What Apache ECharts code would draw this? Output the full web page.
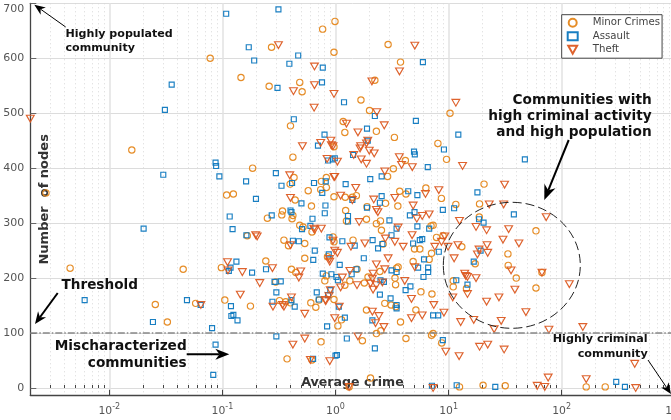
<!DOCTYPE html>
<html><head><meta charset="utf-8">
<style>html,body{margin:0;padding:0;width:671px;height:420px;overflow:hidden;background:#fff}#c{width:705px;height:420px}</style>
<script src="https://cdn.jsdelivr.net/npm/echarts@6/dist/echarts.min.js"></script>
</head><body><div id="c"></div>
<script>
const minorCrimes=[[0.00275,355],[0.0045,218],[0.0158,433],[0.0255,152],[0.0326,120],[0.045,216],[0.058,154],[0.078,600],[0.098,219],[0.105,160],[0.109,351],[0.125,353],[0.146,565],[0.166,277],[0.177,149],[0.185,400],[0.242,231],[0.25,309],[0.259,549],[0.272,620],[0.296,193],[0.32,159],[0.335,315],[0.34,322],[0.35,269],[0.363,157],[0.373,53],[0.384,259],[0.40,477],[0.397,371],[0.408,216],[0.413,308],[0.42,314],[0.42,420],[0.40,155],[0.43,383],[0.44,342],[0.446,210],[0.483,556],[0.507,539],[0.483,296],[0.517,293],[0.535,263],[0.535,236],[0.574,359],[0.605,155],[0.613,331],[0.62,284],[0.62,51],[0.67,147],[0.717,160],[0.74,361],[0.75,376],[0.745,84],[0.77,653],[0.805,195],[0.83,204],[0.83,383],[0.83,365],[0.85,239],[0.95,275],[0.97,266],[0.97,439],[0.97,348],[0.97,161],[0.99,667],[0.97,611],[1.05,113],[1.13,124],[1.17,485],[1.21,465],[1.22,347],[1.21,187],[1.23,323],[1.25,304],[1.32,2],[1.34,195],[1.41,347],[1.43,269],[1.53,350],[1.55,216],[1.68,524],[1.73,86],[1.8,191],[1.88,307],[1.9,330],[1.88,142],[1.94,202],[2.0,505],[2.04,18],[2.23,560],[2.3,467],[2.3,299],[2.3,99],[2.47,212],[2.5,304],[2.55,287],[2.52,104],[2.64,262],[2.73,154],[2.77,336],[2.89,385],[2.92,625],[3.1,151],[3.25,399],[3.32,456],[3.36,200],[3.4,188],[3.42,148],[3.47,218],[3.56,331],[3.58,220],[3.7,358],[3.76,593],[3.76,120],[4.15,414],[4.2,353],[4.2,90],[4.86,230],[5.0,253],[5.14,142],[5.57,253],[5.7,175],[6.3,364],[6.74,234],[7.07,245],[7.0,295],[7.3,296],[7.07,96],[7.3,99],[7.13,171],[7.83,274],[8.05,445],[8.65,345],[8.7,82],[8.95,277],[9.6,416],[10.3,500],[11,195],[11,184],[11.6,334],[12.5,2],[13.1,257],[14.4,181],[17.2,226],[18.7,311],[18.8,335],[20.2,5],[20.6,371],[31.7,4],[33.5,244],[33.7,223],[39.7,200],[59.3,286],[59.3,182],[67,210],[165,2],[243,2]];
const assault=[[0.00605,160],[0.0201,290],[0.0243,120],[0.030,388],[0.031,506],[0.0356,552],[0.0486,160],[0.0643,151],[0.081,109],[0.083,24],[0.087,79],[0.087,410],[0.088,404],[0.094,385],[0.108,681],[0.114,213],[0.118,219],[0.116,312],[0.119,149],[0.12,131],[0.123,289],[0.125,133],[0.133,230],[0.136,123],[0.162,376],[0.163,278],[0.171,620],[0.183,210],[0.191,596],[0.198,344],[0.243,216],[0.273,314],[0.277,157],[0.289,193],[0.297,391],[0.30,174],[0.30,94],[0.307,546],[0.313,689],[0.328,194],[0.333,368],[0.391,590],[0.40,323],[0.408,320],[0.408,160],[0.413,373],[0.42,268],[0.428,489],[0.436,148],[0.468,605],[0.474,267],[0.50,336],[0.506,289],[0.60,295],[0.626,308],[0.634,53],[0.636,233],[0.646,373],[0.656,250],[0.683,174],[0.70,441],[0.712,161],[0.764,355],[0.772,208],[0.772,583],[0.76,556],[0.80,461],[0.804,318],[0.815,332],[0.82,376],[0.843,112],[0.86,414],[0.86,169],[0.872,243],[0.885,274],[0.90,178],[0.92,207],[0.946,416],[0.986,418],[1.0,59],[1.02,202],[1.03,60],[1.05,196],[1.07,148],[1.09,224],[1.15,267],[1.19,520],[1.21,128],[1.23,371],[1.26,90],[1.29,313],[1.29,303],[1.39,207],[1.43,424],[1.41,342],[1.48,259],[1.53,216],[1.78,236],[1.9,472],[1.9,328],[1.93,450],[2.03,380],[2.12,123],[2.13,269],[2.23,495],[2.23,72],[2.38,254],[2.47,337],[2.5,196],[2.56,385],[2.56,349],[2.6,262],[2.68,193],[2.47,170],[3.0,305],[3.07,163],[3.13,278],[3.13,214],[3.47,211],[3.47,290],[3.47,151],[3.47,145],[4.17,178],[4.4,358],[4.6,185],[4.55,314],[4.86,263],[5.0,320],[4.95,430],[5.03,425],[5.14,486],[5.3,351],[5.3,294],[5.38,219],[5.57,269],[5.85,271],[5.93,593],[6.0,202],[6.07,234],[6.55,402],[6.6,219],[6.6,211],[6.74,290],[7.13,4],[7.3,132],[8.1,132],[8.2,248],[8.9,324],[8.9,87],[9.1,434],[11.2,327],[11.7,196],[11.8,5],[12.2,461],[14.7,188],[16.7,230],[18,356],[18.6,307],[19.2,250],[20.4,301],[25.9,2],[37.8,316],[47.3,416],[304,11],[363,2]];
const theft=[[0.002,490],[0.0645,151],[0.111,229],[0.112,214],[0.144,170],[0.15,211],[0.197,278],[0.203,276],[0.214,191],[0.277,218],[0.28,148],[0.313,624],[0.34,151],[0.35,148],[0.394,387],[0.40,346],[0.40,260],[0.408,165],[0.425,540],[0.42,79],[0.474,201],[0.493,212],[0.51,440],[0.535,135],[0.535,90],[0.60,51],[0.642,290],[0.652,585],[0.652,551],[0.647,510],[0.656,288],[0.74,446],[0.75,290],[0.815,160],[0.82,158],[0.843,417],[0.885,235],[0.89,230],[0.875,167],[0.89,49],[0.91,450],[0.90,178],[0.92,442],[0.95,440],[0.95,268],[0.97,535],[0.97,384],[0.985,384],[0.985,250],[0.985,127],[1.04,412],[1.04,246],[1.08,148],[1.11,350],[1.11,183],[1.15,201],[1.25,481],[1.32,2],[1.37,257],[1.34,213],[1.41,342],[1.45,424],[1.51,364],[1.55,187],[1.58,465],[1.58,94],[1.62,302],[1.67,440],[1.69,416],[1.65,436],[1.82,263],[1.88,445],[1.88,408],[1.93,450],[1.99,432],[2.04,190],[2.1,558],[2.12,199],[2.15,208],[2.12,139],[2.2,427],[2.18,343],[2.26,118],[2.3,324],[2.3,225],[2.3,187],[2.32,502],[2.37,320],[2.42,131],[2.15,179],[2.6,192],[2.7,478],[2.73,394],[2.76,272],[2.73,216],[2.68,111],[2.92,236],[3.35,346],[3.35,266],[3.58,292],[3.67,420],[3.68,576],[3.84,406],[3.97,257],[4.1,195],[4.7,162],[4.7,127],[4.78,402],[4.76,278],[4.86,332],[5.03,623],[5.03,220],[5.24,308],[5.85,313],[5.85,132],[6.25,353],[6.74,316],[7.3,0],[7.4,151],[7.56,257],[8.2,360],[8.66,266],[9.1,137],[9.26,276],[9.45,66],[9.9,257],[10.9,165],[11.2,236],[11.6,519],[12.1,260],[12.4,58],[12.5,304],[12.8,120],[13.3,404],[13.9,208],[14.2,204],[14.7,202],[14.7,171],[16.7,124],[17.5,293],[17.5,200],[18,243],[18.6,252],[18.8,75],[21.7,287],[21.7,157],[21.9,260],[22.2,246],[22.2,79],[22.9,334],[25.3,107],[27.9,165],[29.2,122],[30.3,270],[30.7,334],[31,70],[31.3,370],[34,289],[35.7,214],[38.6,179],[41.9,263],[48.3,138],[60.8,4],[67,210],[71,2],[73,311],[76,19],[77.2,106],[117,189],[154,111],[165,16],[443,44],[452,0]];
const seriesNames=['Minor Crimes','Assault','Theft'];
const xTicks=[0.01,0.1,1,10,100,1000];
const yTicks=[0,100,200,300,400,500,600,700];
const xMinorTicks=[];
[0.001,0.01,0.1,1,10,100].forEach(d=>{[2,3,4,5,6,7,8,9].forEach(m=>{const v=+(d*m).toPrecision(3);if(v>=0.002&&v<=1000)xMinorTicks.push(v);});});
const threshold=100;
const orange='#e5871c',blue='#0d78bf',red='#dc5a22';
const tri='path://M0,0L10,0L5,9z';
const chart=echarts.init(document.getElementById('c'),null,{renderer:'canvas'});
const ff='"DejaVu Sans",sans-serif';
const hollow=c=>({color:'rgba(255,255,255,0)',borderColor:c,borderWidth:1.15,opacity:0.95});
function txt(t,x,y,size,align){return {type:'text',z:20,style:{text:t,x:x,y:y,fill:'#111',align:align||'left',verticalAlign:'middle',font:'bold '+size+'px '+ff}};}
function arrow(x0,y0,x1,y1,w,hl,hw){
  const a=Math.atan2(y1-y0,x1-x0),ca=Math.cos(a),sa=Math.sin(a);
  const bx=x1-ca*hl,by=y1-sa*hl,nx=x1-ca*hl*0.7,ny=y1-sa*hl*0.7;
  return [{type:'line',z:20,shape:{x1:x0,y1:y0,x2:nx,y2:ny},style:{stroke:'#000',lineWidth:w}},
   {type:'polygon',z:20,shape:{points:[[x1,y1],[bx-sa*hw,by+ca*hw],[nx,ny],[bx+sa*hw,by-ca*hw]]},style:{fill:'#000'}}];
}
const labelFmt=v=>{const e=Math.round(Math.log10(v));return '{b|10}{s|'+e+'}';};
chart.setOption({
  animation:false,backgroundColor:'#fff',
  grid:{left:30.3,top:3.3,width:644.4,height:392,containLabel:false,outerBoundsMode:'none'},
  legend:{left:561.7,top:14.7,orient:'vertical',padding:[3,2,3.5,5],itemWidth:10,itemHeight:8,itemGap:3.5,selectedMode:false,
    backgroundColor:'#fff',borderColor:'#444',borderWidth:1,z:10,
    textStyle:{fontFamily:ff,fontSize:10.2,color:'#444',padding:[0,0,0,10]},
    data:[{name:seriesNames[0],icon:'circle'},{name:seriesNames[1],icon:'rect'},{name:seriesNames[2],icon:tri}]},
  xAxis:[{type:'log',logBase:10,min:0.002,max:1000,name:'Average crime',nameLocation:'middle',nameGap:-19,nameMoveOverlap:false,
      nameTextStyle:{fontFamily:ff,fontWeight:'bold',fontSize:12.6,color:'#333'},
      axisLine:{show:true,onZero:false,lineStyle:{color:'#444',width:1.3}},
      axisTick:{show:true,inside:true,length:5.5,customValues:xTicks,lineStyle:{color:'#444',width:1}},
      axisLabel:{show:true,customValues:xTicks,margin:8,hideOverlap:false,formatter:labelFmt,color:'#555',
        rich:{b:{fontFamily:ff,fontSize:10.8,color:'#555',verticalAlign:'bottom'},s:{fontFamily:ff,fontSize:8,color:'#555',verticalAlign:'top',padding:[0,0,5,0]}}},
      splitLine:{show:true,lineStyle:{color:'#e2e2e2',width:1.5}},minorSplitLine:{show:false}},
    {type:'log',logBase:10,min:0.002,max:1000,position:'bottom',
      axisLine:{show:false},axisLabel:{show:false},
      axisTick:{show:true,inside:true,length:3,customValues:xMinorTicks,lineStyle:{color:'#444',width:1}},
      splitLine:{show:true,lineStyle:{color:'#d8d8d8',width:1,type:[1,3]}}}],
  yAxis:{type:'value',min:-13.3,max:700,name:'Number  of nodes',nameLocation:'middle',nameGap:-21,nameMoveOverlap:false,
      nameTextStyle:{fontFamily:ff,fontWeight:'bold',fontSize:13,color:'#333'},
      axisLine:{show:true,onZero:false,lineStyle:{color:'#444',width:1.3}},
      axisTick:{show:true,inside:true,length:6,customValues:yTicks,lineStyle:{color:'#666',width:1}},
      axisLabel:{show:true,customValues:yTicks,margin:6,fontFamily:ff,fontSize:11,color:'#555',verticalAlignMaxLabel:'top',showMinLabel:true,showMaxLabel:true},
      splitLine:{show:true,lineStyle:{color:'#dcdcdc',width:1}}},
  series:[
    {name:seriesNames[0],type:'scatter',data:minorCrimes,symbol:'circle',symbolSize:6.3,itemStyle:hollow(orange),clip:false,
      markLine:{silent:true,symbol:'none',label:{show:false},animation:false,data:[{yAxis:threshold}],lineStyle:{color:'#888',width:1.5,type:[7,2,1.5,2]}}},
    {name:seriesNames[1],type:'scatter',data:assault,symbol:'rect',symbolSize:5,itemStyle:hollow(blue),clip:false},
    {name:seriesNames[2],type:'scatter',data:theft,symbol:tri,symbolSize:[7.8,6.8],symbolKeepAspect:false,itemStyle:hollow(red),clip:false}
  ],
  graphic:[
    {type:'ellipse',z:19,shape:{cx:511.8,cy:265.3,rx:68.5,ry:63},style:{fill:'none',stroke:'#222',lineWidth:1,lineDash:[9,4]}},
    ...arrow(65.7,27,34.3,4.7,1,11,4.5),
    ...arrow(57.7,293,35,324,2,12,5),
    ...arrow(186.7,354.3,229.3,354.3,2,14,5.5),
    ...arrow(568.7,140,544.3,200,2,15,6),
    ...arrow(648,360,671,394,1,11,4.5),
    txt('Highly populated',65.5,34,11.1),txt('community',65.5,48,11.1),
    txt('Communities with',651.7,100,13.7,'right'),txt('high criminal activity',651.7,116,13.7,'right'),txt('and high population',651.7,132,13.7,'right'),
    txt('Threshold',61.5,285,13.6),
    txt('Mischaracterized',186.7,346,13.7,'right'),txt('communities',186.7,363,13.7,'right'),
    txt('Highly criminal',647.7,339,11.2,'right'),txt('community',647.7,354,11.2,'right')
  ]
});
</script></body></html>
